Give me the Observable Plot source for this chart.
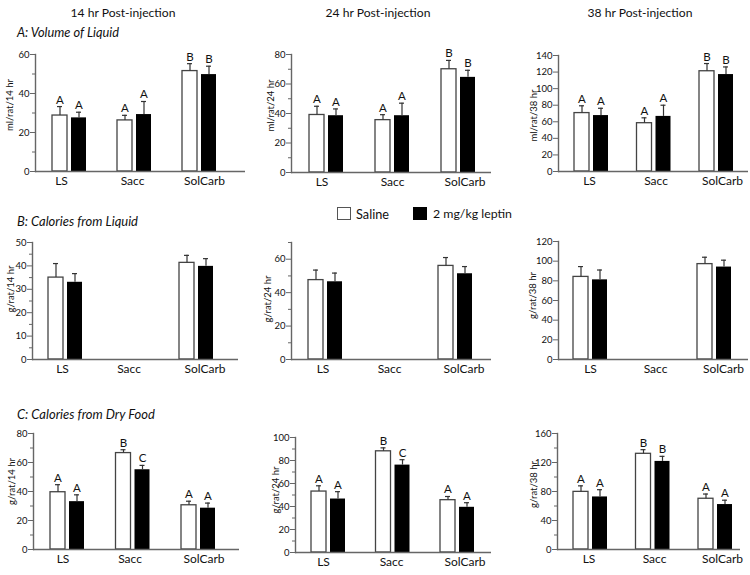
<!DOCTYPE html>
<html><head><meta charset="utf-8">
<script src="https://cdn.jsdelivr.net/npm/d3@7"></script>
<script src="https://cdn.jsdelivr.net/npm/@observablehq/plot@0.6"></script>
<style>
body{margin:0;background:#fff;font-family:Lato,sans-serif;}
#root{position:relative;width:750px;height:575px;overflow:hidden;background:#fff;}
.abs{position:absolute;white-space:nowrap;color:#111;line-height:16px;}
.col{font-size:12.5px;transform:translateX(-50%);}
.row{font-size:12px;font-style:italic;}
.leg{font-size:12.5px;}
.box{position:absolute;width:14px;height:13px;box-sizing:border-box;}
svg.panel{position:absolute;overflow:visible;}
svg.panel [aria-label="y-axis tick"]{stroke:#666;}
</style></head><body><div id="root"></div>
<script>
// ---------- data ----------
const categories = ["LS", "Sacc", "SolCarb"];
const treatments = ["Saline", "2 mg/kg leptin"];
const columnTitles = ["14 hr Post-injection", "24 hr Post-injection", "38 hr Post-injection"];
const rowTitles = ["A: Volume of Liquid", "B: Calories from Liquid", "C: Calories from Dry Food"];
const volumeYLabels = ["ml/rat/14 hr", "ml/rat/24 hr", "ml/rat/38 hr"];
const liquidYLabels = ["g/rat/14 hr", "g/rat/24 hr", "g/rat/38 hr"];
const foodYLabels = ["g/rat/14 hr", "g/rat/24 hr", "g/rat/38 hr"];

// A: Volume of liquid (mean, SE)
const vol14Saline = [28.7, 26.2, 51.5], vol14SalineSE = [4.6, 2.6, 3.8];
const vol14Leptin = [27.5, 29.2, 49.7], vol14LeptinSE = [2.9, 6.7, 4.3];
const vol24Saline = [39.0, 35.5, 70.0], vol24SalineSE = [5.9, 3.7, 6.0];
const vol24Leptin = [38.5, 38.5, 64.5], vol24LeptinSE = [4.6, 8.5, 4.8];
const vol38Saline = [70.5, 58.3, 121.0], vol38SalineSE = [8.8, 6.5, 9.3];
const vol38Leptin = [67.5, 66.5, 117.0], vol38LeptinSE = [8.8, 13.5, 9.2];
const volLettersSaline = ["A", "A", "B"], volLettersLeptin = ["A", "A", "B"];

// B: Calories from liquid (Sacc has none)
const liq14Saline = [35.0, null, 41.3], liq14SalineSE = [6.0, null, 3.2];
const liq14Leptin = [33.0, null, 39.8], liq14LeptinSE = [3.7, null, 3.3];
const liq24Saline = [47.5, null, 56.0], liq24SalineSE = [6.0, null, 5.0];
const liq24Leptin = [46.5, null, 51.3], liq24LeptinSE = [5.2, null, 4.3];
const liq38Saline = [84.0, null, 97.0], liq38SalineSE = [10.5, null, 7.0];
const liq38Leptin = [81.0, null, 94.0], liq38LeptinSE = [10.0, null, 7.0];

// C: Calories from dry food
const food14Saline = [39.5, 66.5, 30.5], food14SalineSE = [5.2, 2.3, 2.8];
const food14Leptin = [33.0, 55.0, 28.5], food14LeptinSE = [4.7, 3.0, 3.5];
const food24Saline = [53.0, 88.0, 45.5], food24SalineSE = [5.0, 3.0, 3.2];
const food24Leptin = [46.5, 76.0, 39.3], food24LeptinSE = [6.4, 4.7, 4.0];
const food38Saline = [79.5, 132.0, 70.0], food38SalineSE = [8.3, 5.7, 6.5];
const food38Leptin = [72.5, 121.5, 62.0], food38LeptinSE = [10.0, 7.0, 6.0];
const food14LettersSaline = ["A", "B", "A"], food14LettersLeptin = ["A", "C", "A"];
const food24LettersSaline = ["A", "B", "A"], food24LettersLeptin = ["A", "C", "A"];
const food38LettersSaline = ["A", "B", "A"], food38LettersLeptin = ["A", "B", "A"];

// y-axis ticks
const ticksVol14 = [0, 20, 40, 60], minorVol14 = [10, 30, 50];
const ticksVol24 = [0, 20, 40, 60, 80], minorVol24 = [10, 30, 50, 70];
const ticksVol38 = [0, 20, 40, 60, 80, 100, 120, 140], minorVol38 = [];
const ticksLiq14 = [0, 10, 20, 30, 40, 50], minorLiq14 = [5, 15, 25, 35, 45];
const ticksLiq24 = [0, 20, 40, 60], minorLiq24 = [10, 30, 50, 70];
const ticksLiq38 = [0, 20, 40, 60, 80, 100, 120], minorLiq38 = [];
const ticksFood14 = [0, 20, 40, 60, 80], minorFood14 = [10, 30, 50, 70];
const ticksFood24 = [0, 20, 40, 60, 80, 100], minorFood24 = [10, 30, 50, 70, 90];
const ticksFood38 = [0, 40, 80, 120, 160], minorFood38 = [20, 60, 100, 140];

// ---------- layout ----------
const root = document.getElementById("root");
function addText(cls, txt, left, top, targetWidth) {
  const d = document.createElement("div");
  d.className = "abs " + cls; d.textContent = txt;
  d.style.left = left + "px"; d.style.top = top + "px";
  root.appendChild(d);
  if (targetWidth) {
    const w = d.getBoundingClientRect().width;
    const fs = parseFloat(getComputedStyle(d).fontSize);
    if (w > 0) d.style.fontSize = (fs * targetWidth / w).toFixed(2) + "px";
  }
  return d;
}
columnTitles.forEach((t, i) => addText("col", t, [123, 378, 640][i], 5, 105));
rowTitles.forEach((t, i) => addText("row", t, 17, [24, 213, 406][i], [102, 121, 138][i]));
// legend
function addBox(left, fill) {
  const b = document.createElement("div");
  b.className = "box"; b.style.left = left + "px"; b.style.top = "207px";
  b.style.background = fill; b.style.border = "1.3px solid " + (fill === "white" ? "#555" : "#000");
  root.appendChild(b);
}
addBox(337, "white"); addText("leg", treatments[0], 356, 206, 33);
addBox(413, "black"); addText("leg", treatments[1], 433, 206, 79);

function panel(c) {
  const W = 250;
  const rows = [];
  categories.forEach((cat, i) => {
    if (c.sal[i] != null) rows.push({cat, trt: treatments[0], v: c.sal[i], se: c.salSE[i], letter: c.salL ? c.salL[i] : ""});
    if (c.lep[i] != null) rows.push({cat, trt: treatments[1], v: c.lep[i], se: c.lepSE[i], letter: c.lepL ? c.lepL[i] : ""});
  });
  const sal = rows.filter(d => d.trt === treatments[0]);
  const lep = rows.filter(d => d.trt === treatments[1]);
  const bw = 36;
  const L = c.range[1] - c.range[0];
  const pi = (L - 3 * bw) / (L - bw);
  const frameW = W - c.ml - c.mr;
  const axisColor = "#666";
  const errColor = "#333";
  const top = d => d.v + d.se;
  const catLabels = categories.map((cat, i) =>
    Plot.text([cat], {x: d => d, frameAnchor: "bottom", lineAnchor: "top", dy: 5, dx: c.ldx[i], fontSize: 12, fill: "#111"}));
  const svg = Plot.plot({
    width: W, height: c.h,
    marginLeft: c.ml, marginRight: c.mr, marginTop: c.mt, marginBottom: c.mb,
    style: {fontFamily: "Lato, sans-serif", color: "#111", background: "transparent", overflow: "visible"},
    x: {domain: categories, range: c.range, paddingInner: pi, paddingOuter: 0, align: 0.5, round: false, axis: null},
    y: {domain: [0, c.max], axis: null},
    marks: [
      Plot.barY(sal, {x: "cat", y: "v", fill: "white", stroke: "#444", strokeWidth: 1.3, insetLeft: 1, insetRight: 20}),
      Plot.barY(lep, {x: "cat", y: "v", fill: "black", insetLeft: 20, insetRight: 1}),
      Plot.ruleX(sal, {x: "cat", y1: "v", y2: top, dx: -9.5, stroke: errColor, strokeWidth: 1.2}),
      Plot.ruleX(lep, {x: "cat", y1: "v", y2: top, dx: 9.5, stroke: errColor, strokeWidth: 1.2}),
      Plot.tickY(sal, {x: "cat", y: top, insetLeft: 6, insetRight: 25, stroke: errColor, strokeWidth: 1.2}),
      Plot.tickY(lep, {x: "cat", y: top, insetLeft: 25, insetRight: 6, stroke: errColor, strokeWidth: 1.2}),
      Plot.text(sal.filter(d => d.letter), {x: "cat", y: top, text: "letter", dx: -9.5, dy: -3, lineAnchor: "bottom", fontSize: 11.5, fill: "#111"}),
      Plot.text(lep.filter(d => d.letter), {x: "cat", y: top, text: "letter", dx: 9.5, dy: -3, lineAnchor: "bottom", fontSize: 11.5, fill: "#111"}),
      Plot.axisY({ticks: c.ticks, tickSize: 5, tickPadding: 1, fontSize: 9.5, label: null}),
      Plot.axisY({ticks: c.minor, tickSize: 3, tickFormat: () => "", label: null}),
      ...catLabels,
      Plot.ruleY([0], {stroke: axisColor, strokeWidth: 1.4}),
      Plot.frame({insetRight: frameW - 0.01, stroke: axisColor, strokeWidth: 1.4}),
      Plot.text([c.ylabel], {frameAnchor: "left", rotate: -90, textAnchor: "middle", dx: c.ylx - c.ml, dy: c.yldy, fontSize: 9.5, fill: "#111"})
    ]
  });
  svg.classList.add("panel");
  svg.style.left = c.x0 + "px"; svg.style.top = c.y0 + "px";
  root.appendChild(svg);
}

const rowA = {y0: 40, h: 150}, rowB = {y0: 228, h: 152}, rowC = {y0: 420, h: 155};
const panels = [
  {...rowA, x0: 0,   ml: 35, mr: 5,  mt: 14, mb: 19, range: [51, 217], ldx: [-8, -2, 5], max: 60,  ticks: ticksVol14, minor: minorVol14, ylabel: volumeYLabels[0], ylx: 9, yldy: -8,
   sal: vol14Saline, salSE: vol14SalineSE, lep: vol14Leptin, lepSE: vol14LeptinSE, salL: volLettersSaline, lepL: volLettersLeptin},
  {...rowA, x0: 250, ml: 41, mr: 9,  mt: 14, mb: 18, range: [58, 226], ldx: [-4.5, 0, 6.5], max: 80,  ticks: ticksVol24, minor: minorVol24, ylabel: volumeYLabels[1], ylx: 20, yldy: -8,
   sal: vol24Saline, salSE: vol24SalineSE, lep: vol24Leptin, lepSE: vol24LeptinSE, salL: volLettersSaline, lepL: volLettersLeptin},
  {...rowA, x0: 500, ml: 58, mr: 2,  mt: 15, mb: 19, range: [73, 234], ldx: [-2, 2, 6], max: 140, ticks: ticksVol38, minor: minorVol38, ylabel: volumeYLabels[2], ylx: 33, yldy: 2,
   sal: vol38Saline, salSE: vol38SalineSE, lep: vol38Leptin, lepSE: vol38LeptinSE, salL: volLettersSaline, lepL: volLettersLeptin},
  {...rowB, x0: 0,   ml: 32, mr: 12, mt: 14, mb: 21, range: [47, 214], ldx: [-3, -2, 8.5], max: 50,  ticks: ticksLiq14, minor: minorLiq14, ylabel: liquidYLabels[0], ylx: 10, yldy: -12,
   sal: liq14Saline, salSE: liq14SalineSE, lep: liq14Leptin, lepSE: liq14LeptinSE},
  {...rowB, x0: 250, ml: 41, mr: 9,  mt: 14, mb: 21, range: [57, 223], ldx: [-2.5, -1, 8.5], max: 70,  ticks: ticksLiq24, minor: minorLiq24, ylabel: liquidYLabels[1], ylx: 17, yldy: -2,
   sal: liq24Saline, salSE: liq24SalineSE, lep: liq24Leptin, lepSE: liq24LeptinSE},
  {...rowB, x0: 500, ml: 58, mr: 2,  mt: 13, mb: 21, range: [72, 232], ldx: [0, 3, 9], max: 120, ticks: ticksLiq38, minor: minorLiq38, ylabel: liquidYLabels[2], ylx: 32, yldy: -5,
   sal: liq38Saline, salSE: liq38SalineSE, lep: liq38Leptin, lepSE: liq38LeptinSE},
  {...rowC, x0: 0,   ml: 33, mr: 11, mt: 13, mb: 26, range: [49, 216], ldx: [-4.5, -3, 5.5], max: 80,  ticks: ticksFood14, minor: minorFood14, ylabel: foodYLabels[0], ylx: 11, yldy: -10,
   sal: food14Saline, salSE: food14SalineSE, lep: food14Leptin, lepSE: food14LeptinSE, salL: food14LettersSaline, lepL: food14LettersLeptin},
  {...rowC, x0: 250, ml: 45, mr: 9,  mt: 17, mb: 23, range: [60, 225], ldx: [-5, -1.5, 7.5], max: 100, ticks: ticksFood24, minor: minorFood24, ylabel: foodYLabels[1], ylx: 25, yldy: -5,
   sal: food24Saline, salSE: food24SalineSE, lep: food24Leptin, lepSE: food24LeptinSE, salL: food24LettersSaline, lepL: food24LettersLeptin},
  {...rowC, x0: 500, ml: 57, mr: 10, mt: 13, mb: 26, range: [72, 233], ldx: [-1.5, 1.5, 7], max: 160, ticks: ticksFood38, minor: minorFood38, ylabel: foodYLabels[2], ylx: 33, yldy: -7,
   sal: food38Saline, salSE: food38SalineSE, lep: food38Leptin, lepSE: food38LeptinSE, salL: food38LettersSaline, lepL: food38LettersLeptin}
];
panels.forEach(panel);
</script>
</body></html>
